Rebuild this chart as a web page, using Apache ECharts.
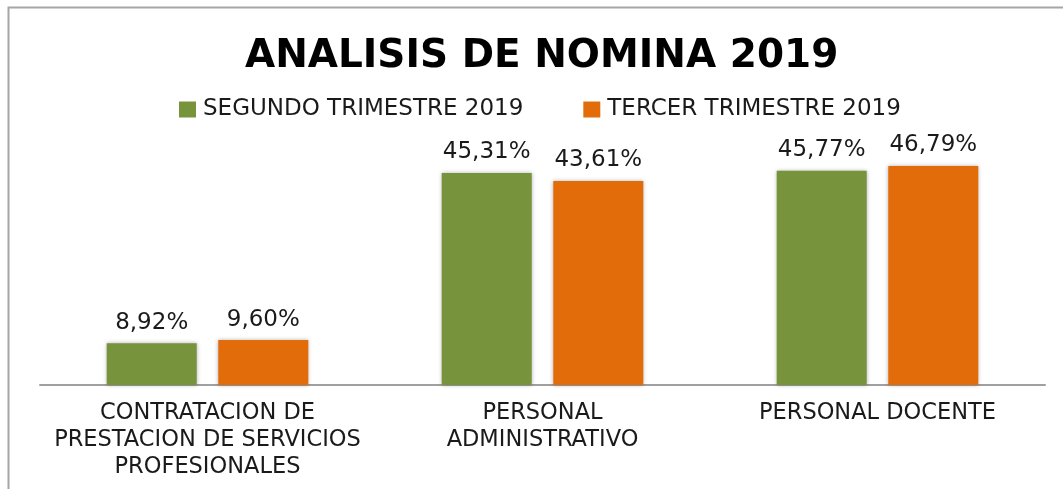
<!DOCTYPE html>
<html>
<head>
<meta charset="utf-8">
<script src="https://cdn.jsdelivr.net/npm/echarts@6/dist/echarts.min.js"></script>
<style>
  html, body { margin: 0; padding: 0; background: #fff; }
  #chart { width: 1063px; height: 489px; }
</style>
</head>
<body>
<div id="chart"></div>
<script>
// categories and values
var categories = [
  "CONTRATACION DE\nPRESTACION DE SERVICIOS\nPROFESIONALES",
  "PERSONAL\nADMINISTRATIVO",
  "PERSONAL DOCENTE"
];
var segundoTrimestre = [8.92, 45.31, 45.77];
var tercerTrimestre = [9.60, 43.61, 46.79];
var seriesNames = ["SEGUNDO TRIMESTRE 2019", "TERCER TRIMESTRE 2019"];

var font = "DejaVu Sans";
var textColor = "#1a1a1a";

function pct(p) {
  return p.value.toFixed(2).replace(".", ",") + "%";
}

var myChart = echarts.init(document.getElementById("chart"));

var barLabel = {
  show: true,
  position: "top",
  distance: 9,
  formatter: pct,
  fontFamily: font,
  fontSize: 23,
  color: textColor
};

var option = {
  backgroundColor: "#fff",
  animation: false,
  title: {
    text: "ANALISIS DE NOMINA 2019",
    left: 240,
    top: 32,
    textStyle: {
      fontFamily: font,
      fontWeight: "bold",
      fontSize: 39,
      color: "#000"
    }
  },
  legend: {
    top: 98,
    left: 179,
    padding: 0,
    itemWidth: 17,
    itemHeight: 16,
    itemGap: 60,
    icon: "rect",
    textStyle: {
      fontFamily: font,
      fontSize: 23,
      color: textColor,
      padding: [0, 0, 0, 2]
    },
    data: seriesNames
  },
  graphic: [
    {
      type: "polyline",
      shape: { points: [[8.5, 600], [8.5, 7.5], [1100, 7.5]] },
      style: { stroke: "#a6a6a6", lineWidth: 2, fill: null }
    }
  ],
  grid: {
    left: 40,
    right: 18,
    top: 151,
    bottom: 104
  },
  xAxis: {
    type: "category",
    data: categories,
    axisLine: { show: true, lineStyle: { color: "#a0a0a0", width: 2 } },
    axisTick: { show: false },
    axisLabel: {
      interval: 0,
      margin: 15,
      fontFamily: font,
      fontSize: 22.5,
      lineHeight: 27,
      color: textColor
    }
  },
  yAxis: {
    type: "value",
    min: 0,
    max: 50,
    show: false,
    splitLine: { show: false }
  },
  series: [
    {
      name: seriesNames[0],
      type: "bar",
      data: segundoTrimestre,
      barWidth: 90,
      barGap: "24%",
      itemStyle: {
        color: "#77933c",
        shadowBlur: 4,
        shadowColor: "rgba(0,0,0,0.3)"
      },
      label: barLabel
    },
    {
      name: seriesNames[1],
      type: "bar",
      data: tercerTrimestre,
      barWidth: 90,
      barGap: "24%",
      itemStyle: {
        color: "#e36c0a",
        shadowBlur: 4,
        shadowColor: "rgba(0,0,0,0.3)"
      },
      label: barLabel
    }
  ]
};

myChart.setOption(option, true);
</script>
</body>
</html>
